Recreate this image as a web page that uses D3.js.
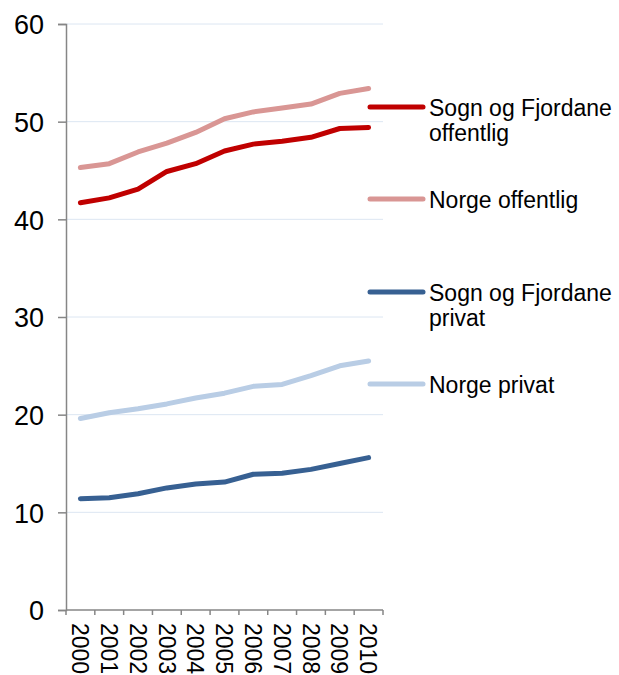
<!DOCTYPE html>
<html>
<head>
<meta charset="utf-8">
<script src="https://cdn.jsdelivr.net/npm/d3@7"></script>
<style>
  body { margin: 0; background: #fff; }
  text { font-family: "Liberation Sans", Arial, sans-serif; fill: #000; }
</style>
</head>
<body>
<script>
const years = ["2000", "2001", "2002", "2003", "2004", "2005", "2006", "2007", "2008", "2009", "2010"];

const sognOffentlig = [41.7, 42.2, 43.1, 44.9, 45.7, 47.0, 47.7, 48.0, 48.4, 49.3, 49.4];
const norgeOffentlig = [45.3, 45.7, 46.9, 47.8, 48.9, 50.3, 51.0, 51.4, 51.8, 52.9, 53.4];
const sognPrivat = [11.4, 11.5, 11.9, 12.5, 12.9, 13.1, 13.9, 14.0, 14.4, 15.0, 15.6];
const norgePrivat = [19.6, 20.2, 20.6, 21.1, 21.7, 22.2, 22.9, 23.1, 24.0, 25.0, 25.5];

const yTicks = [0, 10, 20, 30, 40, 50, 60];

const series = [
  { name: ["Sogn og Fjordane", "offentlig"], values: sognOffentlig, color: "#c00000" },
  { name: ["Norge offentlig"], values: norgeOffentlig, color: "#d99694" },
  { name: ["Sogn og Fjordane", "privat"], values: sognPrivat, color: "#376092" },
  { name: ["Norge privat"], values: norgePrivat, color: "#b9cde5" }
];

const width = 619,
      height = 675;

const plotLeft = 66, plotRight = 383, plotTop = 24, plotBottom = 610;

const x = d3.scaleBand()
    .domain(years)
    .range([plotLeft, plotRight]);

const y = d3.scaleLinear()
    .domain([0, 60])
    .range([plotBottom, plotTop]);

const svg = d3.select("body").append("svg")
    .attr("width", width)
    .attr("height", height);

// gridlines
svg.append("g")
  .selectAll("line")
  .data(yTicks.filter(d => d > 0))
  .join("line")
    .attr("x1", plotLeft)
    .attr("x2", plotRight)
    .attr("y1", d => y(d))
    .attr("y2", d => y(d))
    .attr("stroke", "#dce6f2")
    .attr("stroke-width", 1);

// y axis
const yAxis = svg.append("g")
    .attr("transform", `translate(${plotLeft},0)`)
    .call(d3.axisLeft(y).tickValues(yTicks).tickSize(8).tickPadding(14));
yAxis.select(".domain").attr("stroke", "#868686").attr("stroke-width", 1.5);
yAxis.selectAll(".tick line").attr("stroke", "#868686").attr("stroke-width", 1.5);
yAxis.selectAll(".tick text")
    .attr("font-size", 27)
    .attr("font-family", "Liberation Sans, Arial, sans-serif")
    .attr("fill", "#000")
    .attr("dy", "0.36em");

// x axis: baseline + ticks at band boundaries
const xAxis = svg.append("g");
xAxis.append("line")
    .attr("x1", plotLeft)
    .attr("x2", plotRight)
    .attr("y1", plotBottom)
    .attr("y2", plotBottom)
    .attr("stroke", "#868686")
    .attr("stroke-width", 1.5);
xAxis.selectAll(".xtick")
  .data(years.map(d => x(d)).concat([x.range()[1]]))
  .join("line")
    .attr("class", "xtick")
    .attr("x1", d => d)
    .attr("x2", d => d)
    .attr("y1", plotBottom)
    .attr("y2", plotBottom + 5)
    .attr("stroke", "#868686")
    .attr("stroke-width", 1.5);
xAxis.selectAll(".xlabel")
  .data(years)
  .join("text")
    .attr("class", "xlabel")
    .attr("transform", d => `translate(${x(d) + x.bandwidth() / 2},${plotBottom + 13}) rotate(90)`)
    .attr("dy", "0.36em")
    .attr("font-size", 23)
    .text(d => d);

// lines
const line = d3.line()
    .x((d, i) => x(years[i]) + x.bandwidth() / 2)
    .y(d => y(d));

svg.append("g")
  .selectAll("path")
  .data(series)
  .join("path")
    .attr("d", d => line(d.values))
    .attr("fill", "none")
    .attr("stroke", d => d.color)
    .attr("stroke-width", 5)
    .attr("stroke-linecap", "round")
    .attr("stroke-linejoin", "round");

// legend
const legendY = [107, 199, 292, 384];

const legend = svg.append("g")
  .selectAll("g")
  .data(series)
  .join("g")
    .attr("transform", (d, i) => `translate(0,${legendY[i]})`);

legend.append("line")
    .attr("x1", 370)
    .attr("x2", 423)
    .attr("stroke", d => d.color)
    .attr("stroke-width", 5)
    .attr("stroke-linecap", "round");

legend.append("text")
    .attr("x", 429)
    .attr("y", 9)
    .attr("font-size", 23)
  .selectAll("tspan")
  .data(d => d.name)
  .join("tspan")
    .attr("x", 429)
    .attr("dy", (d, i) => i === 0 ? 0 : 25)
    .text(d => d);
</script>
</body>
</html>
